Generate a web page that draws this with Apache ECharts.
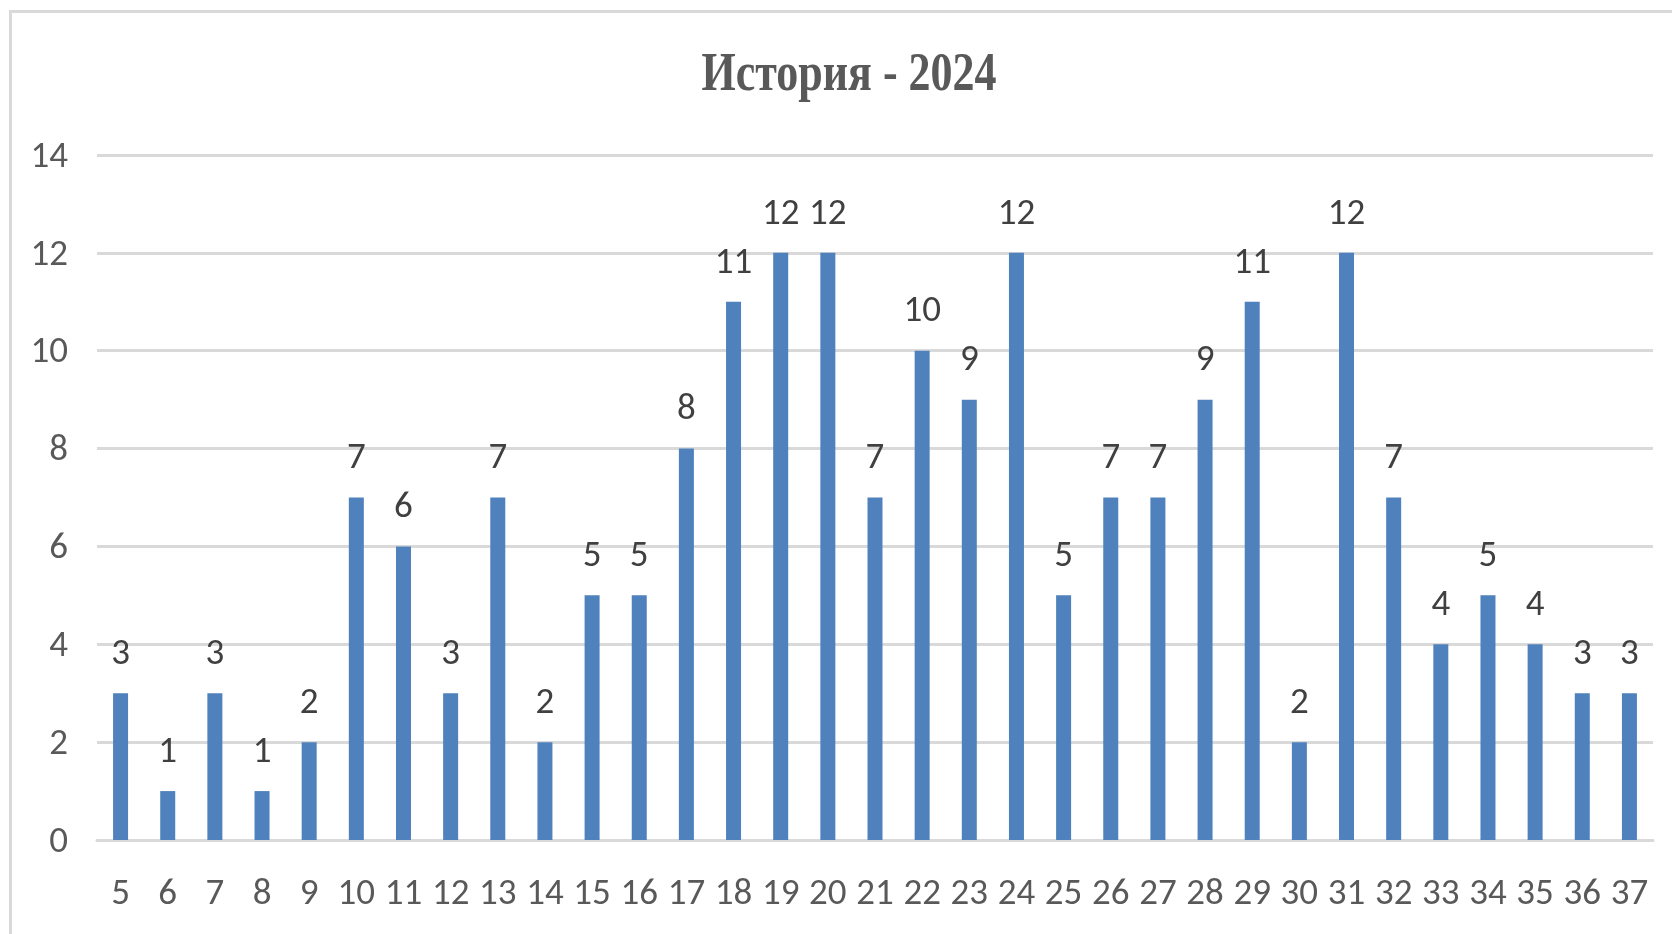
<!DOCTYPE html>
<html>
<head>
<meta charset="utf-8">
<script src="https://cdn.jsdelivr.net/npm/echarts@6/dist/echarts.min.js"></script>
<style>
html, body { margin: 0; padding: 0; background: #fff; }
#chart { width: 1672px; height: 934px; }
</style>
</head>
<body>
<div id="chart"></div>
<script>
const titleText = 'История - 2024';
const categories = ['5', '6', '7', '8', '9', '10', '11', '12', '13', '14', '15', '16', '17', '18', '19', '20', '21',
    '22', '23', '24', '25', '26', '27', '28', '29', '30', '31', '32', '33', '34', '35', '36', '37'];
const values = [3, 1, 3, 1, 2, 7, 6, 3, 7, 2, 5, 5, 8, 11, 12, 12, 7, 10, 9, 12, 5, 7, 7, 9, 11, 2, 12, 7, 4, 5, 4, 3, 3];
const yMin = 0;
const yMax = 14;
const yStep = 2;

const labelFont = 'Carlito, "Open Sans", sans-serif';

const myChart = echarts.init(document.getElementById('chart'));

const option = {
    backgroundColor: '#fff',
    animation: false,
    graphic: [
        {
            // frame around the chart area
            type: 'rect',
            shape: { x: 10.5, y: 11.5, width: 1700, height: 1000 },
            style: { fill: 'none', stroke: '#d9d9d9', lineWidth: 3 },
            z: -1
        },
        {
            // title is slightly stretched vertically like the source
            type: 'text',
            x: 849,
            y: 76,
            scaleY: 1.27,
            style: {
                text: titleText,
                x: 0,
                y: 0,
                align: 'center',
                verticalAlign: 'middle',
                fill: '#595959',
                font: 'bold 44px "Liberation Serif", "Times New Roman", serif'
            }
        }
    ],
    grid: {
        left: 97,
        right: 19,
        top: 155,
        bottom: 94,
        containLabel: false
    },
    xAxis: {
        type: 'category',
        data: categories,
        axisLine: {
            show: true,
            lineStyle: { color: '#d9d9d9', width: 3 }
        },
        axisTick: { show: false },
        axisLabel: {
            color: '#595959',
            fontSize: 37,
            fontFamily: labelFont,
            margin: 36,
            interval: 0
        }
    },
    yAxis: {
        type: 'value',
        min: yMin,
        max: yMax,
        interval: yStep,
        axisLine: { show: false },
        axisTick: { show: false },
        splitLine: {
            show: true,
            lineStyle: { color: '#d9d9d9', width: 3 }
        },
        axisLabel: {
            margin: 29,
            formatter: '{v|{value}}',
            rich: {
                v: {
                    color: '#595959',
                    fontSize: 37,
                    fontFamily: labelFont,
                    padding: [5, 0, 0, 0]
                }
            }
        }
    },
    series: [
        {
            type: 'bar',
            data: values,
            barWidth: 15,
            itemStyle: { color: '#4f81bd' },
            label: {
                show: true,
                position: 'top',
                distance: 20,
                color: '#404040',
                fontSize: 37,
                fontFamily: labelFont
            }
        }
    ]
};

myChart.setOption(option);
</script>
</body>
</html>
